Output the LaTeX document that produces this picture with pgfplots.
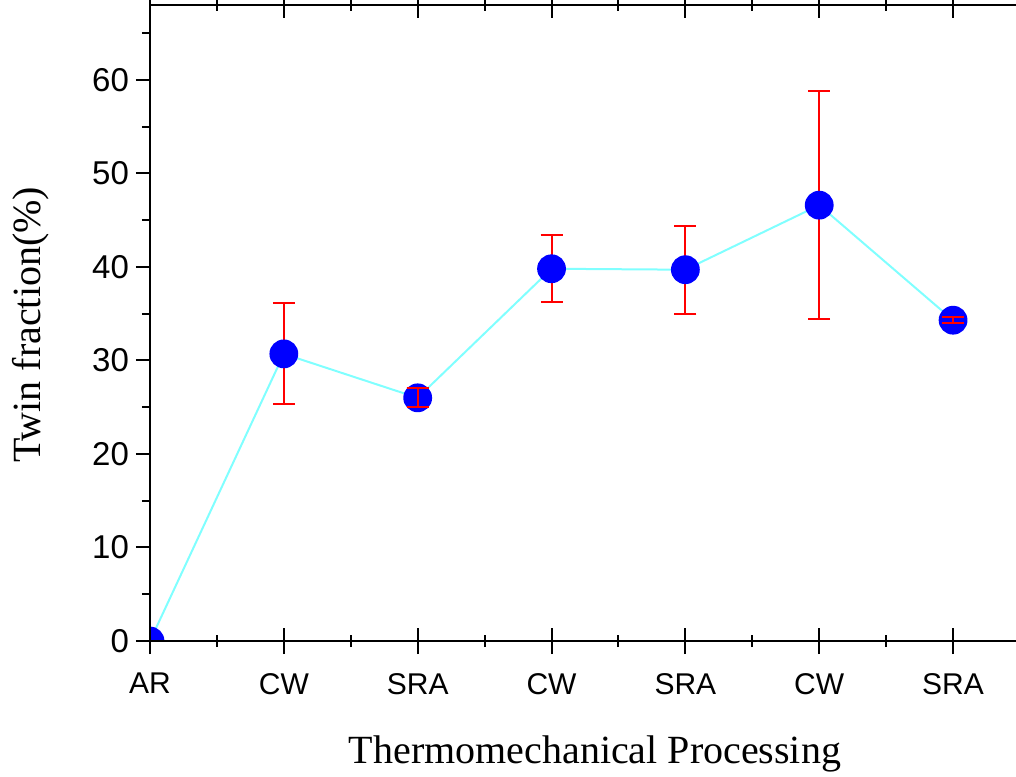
\documentclass[border=0pt]{standalone}
\usepackage{pgfplots}
\pgfplotsset{compat=1.18}
\usepackage{fontspec}
\setmainfont{Liberation Serif}
\newfontfamily\arial{Liberation Sans}
\definecolor{lcyan}{RGB}{128,255,255}

% x, mean, error
\pgfplotstableread{
x y e
0 0.0 0.0
1 30.7 5.4
2 26.0 1.0
3 39.8 3.6
4 39.7 4.7
5 46.6 12.2
6 34.3 0.3
}\twin
\pgfplotstableread{
x y e
2 26.0 1.0
6 34.3 0.3
}\small

\pgfplotsset{frame/.style={
  at={(0,0)}, anchor=south west,
  scale only axis, width=435pt, height=318pt,
  xmin=0, xmax=6.5, ymin=0, ymax=68,
  axis line style={line width=1pt},
  every tick/.style={black, line width=1pt},
  /pgf/number format/assume math mode=true,
}}

\begin{document}
\begin{tikzpicture}
\begin{axis}[frame,
  xtick=\empty,
  ytick={0,10,...,60}, minor ytick={5,15,...,65},
  ytick pos=left, ytick align=outside,
  major tick length=7pt, minor tick length=4pt,
  yticklabel style={font=\arial\fontsize{16.5}{19}\selectfont},
  clip marker paths=true,
  xlabel={Thermomechanical Processing},
  ylabel={Twin fraction(\%)},
  xlabel style={at={(axis description cs:0.5115,-0.192)}, anchor=base, font=\fontsize{20}{24}\selectfont},
  ylabel style={at={(axis description cs:-0.1264,0.497)}, anchor=base, font=\fontsize{20}{24}\selectfont},
]
\addplot[draw=none, mark=none, forget plot,
  error bars/.cd, y dir=both, y explicit,
  error bar style={red, line width=1pt},
  error mark options={red, rotate=90, mark size=5.5pt, line width=1pt}]
  table[x=x, y=y, y error=e] {\twin};
\addplot[lcyan, line width=1pt, mark=*, mark size=6.7pt,
  mark options={blue, fill=blue}]
  table[x=x, y=y] {\twin};
\addplot[draw=none, mark=none, forget plot,
  error bars/.cd, y dir=both, y explicit,
  error bar style={red, line width=1pt},
  error mark options={red, rotate=90, mark size=5.5pt, line width=1pt}]
  table[x=x, y=y, y error=e] {\small};
\end{axis}
% x ticks are longer than the y ticks, so they get their own axis
\begin{axis}[frame,
  ytick=\empty,
  xtick={0,...,6}, xticklabels={AR,CW,SRA,CW,SRA,CW,SRA},
  minor xtick={0.5,1.5,...,5.5},
  xtick align=center,
  major tick length=13pt, minor tick length=6pt,
  xticklabel style={yshift=-6pt, font=\arial\fontsize{15}{18}\selectfont},
]
\end{axis}
\pgfresetboundingbox
\useasboundingbox (-75pt,-67.5pt) rectangle (433pt,320.5pt);
\end{tikzpicture}
\end{document}
